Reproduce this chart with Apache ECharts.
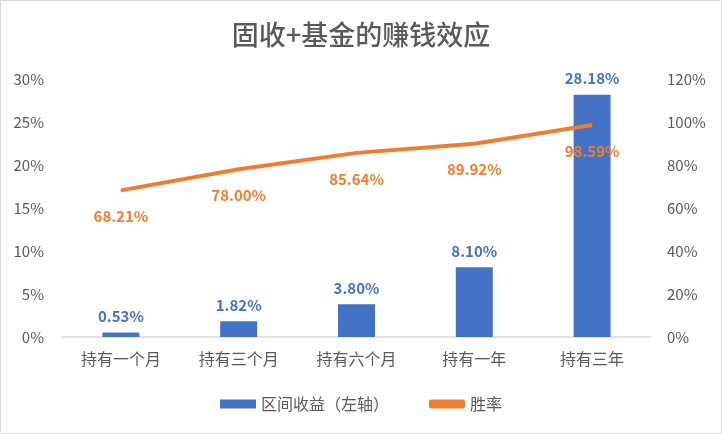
<!DOCTYPE html>
<html><head><meta charset="utf-8">
<script src="https://cdn.jsdelivr.net/npm/echarts@6/dist/echarts.min.js"></script>
<style>html,body{margin:0;padding:0;background:#fff}#c{width:722px;height:434px;box-sizing:border-box;border:1px solid #d9d9d9}</style>
</head><body><div id="c"></div>
<script>
const categories = ['持有一个月','持有三个月','持有六个月','持有一年','持有三年'];
const returns = [0.53, 1.82, 3.80, 8.10, 28.18];
const winRate = [68.21, 78.00, 85.64, 89.92, 98.59];
const chart = echarts.init(document.getElementById('c'));
const font = '"Noto Sans CJK SC", sans-serif';
chart.setOption({
  animation:false,
  title:{text:'固收+基金的赚钱效应',left:'center',top:15,textStyle:{fontFamily:font,fontSize:27,fontWeight:500,color:'#595959'}},
  grid:{left:61,right:70,top:78,bottom:96},
  legend:{bottom:16,left:'center',itemGap:40,itemWidth:36,itemHeight:9,textStyle:{fontFamily:font,fontSize:16,color:'#595959'},
    data:[{name:'区间收益（左轴）',icon:'rect'},{name:'胜率',icon:'roundRect'}]},
  xAxis:{type:'category',data:categories,axisTick:{show:false},axisLine:{lineStyle:{color:'#d9d9d9',width:1.5}},
    axisLabel:{fontFamily:font,fontSize:16,color:'#595959',margin:14}},
  yAxis:[
    {type:'value',min:0,max:30,interval:5,splitLine:{show:false},axisLabel:{formatter:'{value}%',fontFamily:font,fontSize:15,color:'#595959',margin:18}},
    {type:'value',min:0,max:120,interval:20,splitLine:{show:false},axisLabel:{formatter:'{value}%',fontFamily:font,fontSize:15,color:'#595959',margin:16}}
  ],
  series:[
    {name:'区间收益（左轴）',type:'bar',data:returns,barWidth:37,itemStyle:{color:'#4472C4'},
     label:{show:true,position:'top',formatter:p=>p.value.toFixed(2)+'%',fontFamily:font,fontSize:15,fontWeight:'bold',color:'#4472C4',distance:9}},
    {name:'胜率',type:'line',yAxisIndex:1,data:winRate,symbol:'circle',symbolSize:1,showSymbol:true,lineStyle:{color:'#ED7D31',width:4},itemStyle:{color:'#ED7D31'},
     label:{show:true,position:'bottom',formatter:p=>p.value.toFixed(2)+'%',fontFamily:font,fontSize:15,fontWeight:'bold',color:'#ED7D31',distance:18}}
  ]
});
</script></body></html>
